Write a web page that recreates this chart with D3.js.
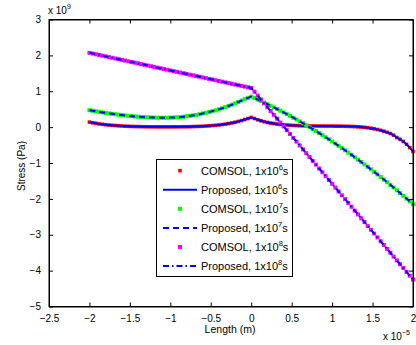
<!DOCTYPE html>
<html><head><meta charset="utf-8">
<script src="https://cdn.jsdelivr.net/npm/d3@7"></script>
<style>body{margin:0;background:#fff}svg{display:block}text{font-family:Arial,"Liberation Sans",Helvetica,sans-serif;fill:#000}</style>
</head><body>
<div id="chart"></div>
<script>
// Length in units of 1e-5 m, stress in units of 1e9 Pa
const xs = [-2.00,-1.96,-1.92,-1.88,-1.84,-1.80,-1.76,-1.72,-1.68,-1.64,-1.60,-1.56,-1.52,-1.48,-1.44,-1.40,-1.36,-1.32,-1.28,-1.24,-1.20,-1.16,-1.12,-1.08,-1.04,-1.00,-0.96,-0.92,-0.88,-0.84,-0.80,-0.76,-0.72,-0.68,-0.64,-0.60,-0.56,-0.52,-0.48,-0.44,-0.40,-0.36,-0.32,-0.28,-0.24,-0.20,-0.16,-0.12,-0.08,-0.04,0.00,0.04,0.08,0.12,0.16,0.20,0.24,0.28,0.32,0.36,0.40,0.44,0.48,0.52,0.56,0.60,0.64,0.68,0.72,0.76,0.80,0.84,0.88,0.92,0.96,1.00,1.04,1.08,1.12,1.16,1.20,1.24,1.28,1.32,1.36,1.40,1.44,1.48,1.52,1.56,1.60,1.64,1.68,1.72,1.76,1.80,1.84,1.88,1.92,1.96,2.00];
const s1e6 = [0.14,0.12,0.105,0.09,0.078,0.067,0.058,0.05,0.043,0.037,0.032,0.027,0.023,0.02,0.017,0.015,0.013,0.011,0.01,0.009,0.008,0.007,0.007,0.007,0.007,0.007,0.008,0.008,0.009,0.01,0.011,0.013,0.015,0.018,0.021,0.025,0.03,0.036,0.043,0.051,0.06,0.071,0.084,0.099,0.116,0.136,0.158,0.183,0.211,0.24,0.27,0.24,0.205,0.178,0.152,0.131,0.113,0.098,0.085,0.074,0.065,0.058,0.052,0.047,0.043,0.04,0.037,0.035,0.033,0.032,0.031,0.03,0.03,0.029,0.029,0.028,0.027,0.026,0.025,0.023,0.021,0.018,0.014,0.009,0.002,-0.007,-0.018,-0.032,-0.048,-0.067,-0.089,-0.115,-0.145,-0.18,-0.225,-0.29,-0.34,-0.40,-0.48,-0.57,-0.68];
const s1e7 = [0.47,0.455,0.44,0.425,0.41,0.396,0.383,0.37,0.358,0.346,0.335,0.325,0.315,0.306,0.298,0.29,0.283,0.277,0.272,0.268,0.265,0.263,0.262,0.262,0.263,0.265,0.268,0.273,0.279,0.287,0.305,0.315,0.327,0.34,0.358,0.38,0.40,0.42,0.445,0.47,0.495,0.525,0.555,0.59,0.625,0.66,0.70,0.74,0.78,0.815,0.85,0.81,0.768,0.726,0.684,0.64,0.596,0.55,0.504,0.458,0.41,0.362,0.312,0.262,0.212,0.16,0.108,0.054,0.0,-0.054,-0.11,-0.166,-0.224,-0.282,-0.34,-0.40,-0.46,-0.522,-0.584,-0.646,-0.71,-0.774,-0.84,-0.906,-0.972,-1.04,-1.108,-1.178,-1.248,-1.318,-1.39,-1.462,-1.536,-1.61,-1.684,-1.76,-1.836,-1.914,-1.992,-2.07,-2.15];
const s1e8 = [2.07,2.05,2.031,2.011,1.992,1.972,1.952,1.933,1.913,1.894,1.874,1.854,1.835,1.815,1.796,1.776,1.756,1.737,1.717,1.698,1.678,1.658,1.639,1.619,1.6,1.58,1.56,1.541,1.521,1.502,1.482,1.462,1.443,1.423,1.404,1.384,1.364,1.345,1.325,1.306,1.286,1.266,1.247,1.227,1.208,1.188,1.168,1.149,1.129,1.11,1.09,0.99,0.88,0.77,0.66,0.555,0.448,0.341,0.235,0.128,0.021,-0.086,-0.192,-0.299,-0.406,-0.513,-0.62,-0.726,-0.833,-0.94,-1.046,-1.153,-1.26,-1.367,-1.474,-1.58,-1.687,-1.794,-1.9,-2.007,-2.114,-2.221,-2.328,-2.434,-2.541,-2.648,-2.754,-2.861,-2.968,-3.075,-3.182,-3.288,-3.395,-3.502,-3.608,-3.715,-3.822,-3.929,-4.036,-4.142,-4.25];
const xTicks = [-2.5,-2,-1.5,-1,-0.5,0,0.5,1,1.5,2];
const yTicks = [-5,-4,-3,-2,-1,0,1,2,3];
const legendLabels = [
  ["COMSOL, 1x10","6","s"],["Proposed, 1x10","6","s"],
  ["COMSOL, 1x10","7","s"],["Proposed, 1x10","7","s"],
  ["COMSOL, 1x10","8","s"],["Proposed, 1x10","8","s"]];

const W = 416, H = 345;
const L = 49, R = 413, T = 19.5, B = 306.5;
const svg = d3.select("#chart").append("svg").attr("width", W).attr("height", H);
const x = d3.scaleLinear().domain([-2.5, 2]).range([L, R]);
const y = d3.scaleLinear().domain([-5, 3]).range([B, T]);
const fmt = v => (v < 0 ? "\u2212" : "") + String(Math.abs(v));

// series styles
const series = [
  {vals: s1e6, type: "marker", color: "#ff0000", size: 3.6},
  {vals: s1e6, type: "line", color: "#0000ff", dash: null},
  {vals: s1e7, type: "marker", color: "#00ff00", size: 4},
  {vals: s1e7, type: "line", color: "#0000ff", dash: "6,4"},
  {vals: s1e8, type: "marker", color: "#ff00ff", size: 4},
  {vals: s1e8, type: "line", color: "#0000ff", dash: "6,3,1.5,3"}
];
const plot = svg.append("g");
const line = d3.line().x((d, i) => x(xs[i])).y(d => y(d));
series.forEach(s => {
  if (s.type === "marker") {
    plot.append("g").selectAll("rect").data(s.vals).join("rect")
      .attr("x", (d, i) => x(xs[i]) - s.size / 2).attr("y", d => y(d) - s.size / 2)
      .attr("width", s.size).attr("height", s.size).attr("fill", s.color);
  } else {
    plot.append("path").datum(s.vals).attr("d", line).attr("fill", "none")
      .attr("stroke", s.color).attr("stroke-width", 2)
      .attr("stroke-dasharray", s.dash);
  }
});

// axes (box with inward ticks)
const axB = d3.axisBottom(x).tickValues(xTicks).tickSizeInner(-4).tickSizeOuter(0).tickPadding(8).tickFormat(fmt);
const axT = d3.axisTop(x).tickValues(xTicks).tickSizeInner(-4).tickSizeOuter(0).tickFormat("");
const axLf = d3.axisLeft(y).tickValues(yTicks).tickSizeInner(-4).tickSizeOuter(0).tickPadding(8).tickFormat(fmt);
const axRt = d3.axisRight(y).tickValues(yTicks).tickSizeInner(-4).tickSizeOuter(0).tickFormat("");
const gB = svg.append("g").attr("transform", `translate(0,${B})`).call(axB);
const gT = svg.append("g").attr("transform", `translate(0,${T})`).call(axT);
const gL = svg.append("g").attr("transform", `translate(${L},0)`).call(axLf);
const gR = svg.append("g").attr("transform", `translate(${R},0)`).call(axRt);
[gB, gT, gL, gR].forEach(g => {
  g.select(".domain").attr("stroke", "#000").attr("stroke-width", 1);
  g.selectAll(".tick line").attr("stroke", "#000");
  g.selectAll("text").attr("font-size", 10).attr("fill", "#000").attr("font-family", "Arial, 'Liberation Sans', sans-serif");
});
svg.append("rect").attr("x", L).attr("y", T).attr("width", R - L).attr("height", B - T)
  .attr("fill", "none").attr("stroke", "#000").attr("stroke-width", 1);

// exponent labels
const e1 = svg.append("text").attr("x", 48).attr("y", 14).attr("font-size", 10);
e1.append("tspan").text("x 10");
e1.append("tspan").attr("font-size", 7).attr("dy", -5).text("9");
const e2 = svg.append("text").attr("x", 383).attr("y", 340).attr("font-size", 10);
e2.append("tspan").text("x 10");
e2.append("tspan").attr("font-size", 7).attr("dy", -5).text("\u22125");

// axis titles
svg.append("text").attr("x", 230).attr("y", 333).attr("text-anchor", "middle").attr("font-size", 10.5).text("Length (m)");
svg.append("text").attr("transform", "translate(25,166) rotate(-90)").attr("text-anchor", "middle").attr("font-size", 10).text("Stress (Pa)");

// legend
const lg = svg.append("g");
lg.append("rect").attr("x", 156.5).attr("y", 159.5).attr("width", 136).attr("height", 117)
  .attr("fill", "#fff").attr("stroke", "#000").attr("stroke-width", 1);
const rowY = i => 170.7 + i * 19.06;
series.forEach((s, i) => {
  const yy = rowY(i);
  if (s.type === "marker") {
    lg.append("rect").attr("x", 180 - s.size / 2).attr("y", yy - s.size / 2)
      .attr("width", s.size).attr("height", s.size).attr("fill", s.color);
  } else {
    lg.append("line").attr("x1", 163).attr("x2", 197).attr("y1", yy).attr("y2", yy)
      .attr("stroke", s.color).attr("stroke-width", 2).attr("stroke-dasharray", s.dash);
  }
  const t = lg.append("text").attr("x", 201).attr("y", yy + 4).attr("font-size", 11);
  t.append("tspan").text(legendLabels[i][0]);
  t.append("tspan").attr("font-size", 7.5).attr("dy", -5).text(legendLabels[i][1]);
  t.append("tspan").attr("dy", 5).text(legendLabels[i][2]);
});
</script>
</body></html>
